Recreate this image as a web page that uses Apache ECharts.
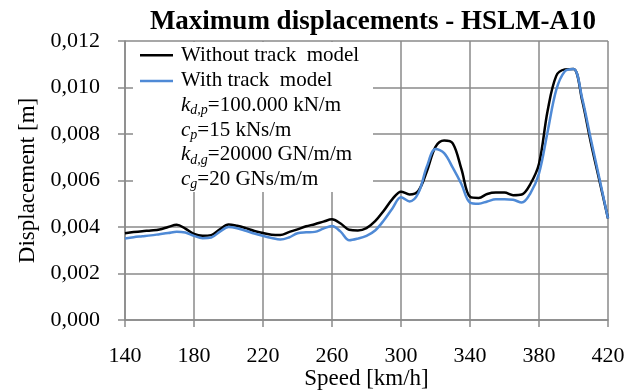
<!DOCTYPE html>
<html>
<head>
<meta charset="utf-8">
<script src="https://cdn.jsdelivr.net/npm/echarts@6/dist/echarts.min.js"></script>
<style>
  html, body { margin: 0; padding: 0; background: #fff; }
  #chart { width: 634px; height: 392px; }
</style>
</head>
<body>
<div id="chart"></div>
<script>
// Train speed [km/h]
const speeds = [140, 145, 150, 155, 160, 165, 170, 175, 180, 185, 190, 195, 200, 205, 210,
  215, 220, 225, 230, 235, 240, 245, 250, 255, 260, 265, 270, 275, 280, 285, 290, 295, 300,
  305, 310, 315, 320, 325, 330, 335, 340, 345, 350, 355, 360, 365, 370, 375, 380, 385, 390,
  395, 400, 405, 410, 415, 420];

// Maximum displacement [m] without the track model
const withoutTrack = [0.00373, 0.00378, 0.00382, 0.00385, 0.00389, 0.00400, 0.00410, 0.00393,
  0.00370, 0.00362, 0.00365, 0.00390, 0.00411, 0.00405, 0.00395, 0.00383, 0.00374, 0.00367,
  0.00366, 0.00378, 0.00390, 0.00403, 0.00412, 0.00423, 0.00433, 0.00415, 0.00388, 0.00385,
  0.00395, 0.00425, 0.00470, 0.00520, 0.00552, 0.00540, 0.00555, 0.00640, 0.00745, 0.00772,
  0.00760, 0.00650, 0.00530, 0.00525, 0.00542, 0.00548, 0.00548, 0.00537, 0.00540, 0.00585,
  0.00672, 0.00900, 0.01050, 0.01078, 0.01080, 0.00945, 0.00765, 0.00600, 0.00437];

// Maximum displacement [m] with the track model
const withTrack = [0.00351, 0.00356, 0.00360, 0.00364, 0.00369, 0.00374, 0.00380, 0.00376,
  0.00362, 0.00352, 0.00355, 0.00380, 0.00400, 0.00395, 0.00384, 0.00372, 0.00362, 0.00353,
  0.00346, 0.00355, 0.00373, 0.00377, 0.00379, 0.00393, 0.00404, 0.00380, 0.00343, 0.00350,
  0.00362, 0.00385, 0.00428, 0.00480, 0.00528, 0.00510, 0.00545, 0.00660, 0.00735, 0.00718,
  0.00655, 0.00585, 0.00505, 0.00500, 0.00510, 0.00519, 0.00519, 0.00517, 0.00505, 0.00545,
  0.00630, 0.00810, 0.00990, 0.01070, 0.01080, 0.00955, 0.00780, 0.00610, 0.00437];

const seriesNames = ['Without track  model', 'With track  model'];
const titleText = 'Maximum displacements - HSLM-A10';
const xName = 'Speed [km/h]';
const yName = 'Displacement [m]';

const serif = '"Liberation Serif", "Times New Roman", serif';
const grey = '#8a8a8a';

const pairs = (ys) => speeds.map((s, i) => [s, ys[i]]);

const chart = echarts.init(document.getElementById('chart'), null, { renderer: 'canvas' });

chart.setOption({
  animation: false,
  backgroundColor: '#fff',
  textStyle: { fontFamily: serif },
  title: {
    text: titleText,
    left: 368,
    textAlign: 'center',
    top: 4,
    textStyle: { fontFamily: serif, fontWeight: 'bold', fontSize: 27, color: '#000' }
  },
  grid: {
    left: 125, right: 26, top: 41, bottom: 72,
    containLabel: false,
    outerBoundsMode: 'none'
  },
  xAxis: {
    type: 'value',
    min: 140,
    max: 420,
    interval: 40,
    name: xName,
    nameLocation: 'middle',
    nameGap: 47,
    nameMoveOverlap: false,
    nameTextStyle: { fontFamily: serif, fontSize: 23, color: '#000' },
    axisLine: { show: true, lineStyle: { color: grey, width: 1.5 } },
    axisTick: { show: true, length: 7, lineStyle: { color: grey, width: 1.5 } },
    axisLabel: { margin: 25, fontFamily: serif, fontSize: 22, color: '#000' },
    splitLine: { show: true, lineStyle: { color: grey, width: 1.5 } }
  },
  yAxis: {
    type: 'value',
    min: 0,
    max: 0.012,
    interval: 0.002,
    name: yName,
    nameLocation: 'middle',
    nameGap: 86,
    nameMoveOverlap: false,
    nameTextStyle: { fontFamily: serif, fontSize: 23, color: '#000' },
    axisLine: { show: true, lineStyle: { color: grey, width: 1.5 } },
    axisTick: { show: true, length: 7, lineStyle: { color: grey, width: 1.5 } },
    axisLabel: {
      margin: 25,
      fontFamily: serif,
      fontSize: 22,
      color: '#000',
      formatter: (v) => v.toFixed(3).replace('.', ',')
    },
    splitLine: { show: true, lineStyle: { color: grey, width: 1.5 } }
  },
  legend: {
    orient: 'vertical',
    left: 140,
    top: 43,
    itemWidth: 33,
    itemHeight: 2.5,
    itemGap: 1,
    icon: 'rect',
    padding: 0,
    z: 5,
    textStyle: { fontFamily: serif, fontSize: 21, color: '#000', lineHeight: 24.6, padding: [0, 0, 0, 3] },
    data: seriesNames
  },
  graphic: [
    {
      type: 'rect',
      z: 1,
      shape: { x: 133, y: 42, width: 240, height: 150 },
      style: { fill: '#fff' }
    },
    {
      type: 'text',
      z: 6,
      left: 181,
      top: 95,
      style: {
        text: '{i|k}{s|d,p}{n|=100.000 kN/m}\n{i|c}{s|p}{n|=15 kNs/m}\n{i|k}{s|d,g}{n|=20000 GN/m/m}\n{i|c}{s|g}{n|=20 GNs/m/m}',
        rich: {
          i: { fontFamily: serif, fontStyle: 'italic', fontSize: 21, lineHeight: 24.6, fill: '#000' },
          s: { fontFamily: serif, fontStyle: 'italic', fontSize: 14, lineHeight: 24.6, verticalAlign: 'bottom', fill: '#000' },
          n: { fontFamily: serif, fontSize: 21, lineHeight: 24.6, fill: '#000' }
        }
      }
    }
  ],
  series: [
    {
      name: seriesNames[0],
      type: 'line',
      data: pairs(withoutTrack),
      smooth: 0.35,
      symbol: 'none',
      z: 3,
      itemStyle: { color: '#000' },
      lineStyle: { color: '#000', width: 2.5 }
    },
    {
      name: seriesNames[1],
      type: 'line',
      data: pairs(withTrack),
      smooth: 0.35,
      symbol: 'none',
      z: 4,
      itemStyle: { color: '#4f8ad6' },
      lineStyle: { color: '#4f8ad6', width: 2.5 }
    }
  ]
});
</script>
</body>
</html>
